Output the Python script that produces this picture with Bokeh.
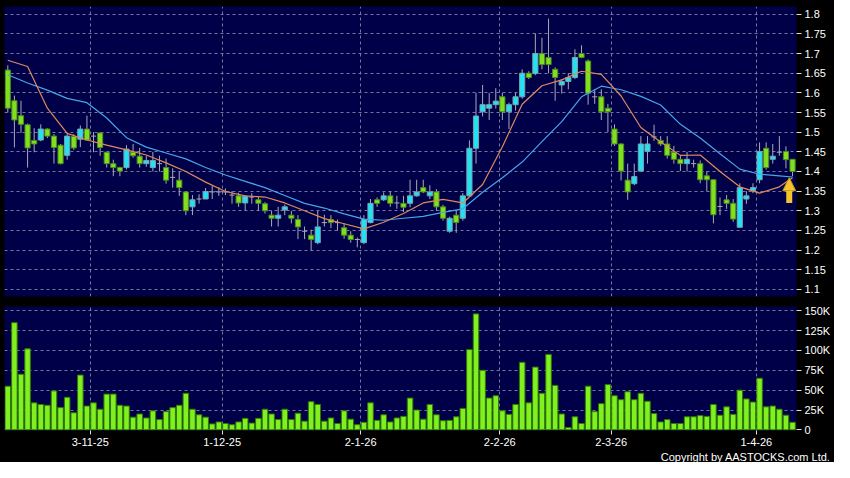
from bokeh.plotting import figure
from bokeh.layouts import column
from bokeh.models import (ColumnDataSource, FixedTicker, CustomJSTickFormatter, Title,
                          Range1d, Arrow, NormalHead)
from bokeh.embed import file_html
from bokeh.resources import INLINE

# ---------------- data ----------------
opens = [1.658, 1.580, 1.542, 1.519, 1.479, 1.480, 1.508, 1.490, 1.467, 1.441,
         1.489, 1.482, 1.508, 1.490, 1.498, 1.449, 1.420, 1.410, 1.410, 1.449,
         1.439, 1.420, 1.410, 1.420, 1.410, 1.385, 1.378, 1.348, 1.310, 1.330,
         1.330, 1.348, 1.348, 1.348, 1.340, 1.338, 1.320, 1.335, 1.328, 1.318,
         1.289, 1.281, 1.302, 1.289, 1.278, 1.248, 1.238, 1.219, 1.270, 1.278,
         1.270, 1.257, 1.238, 1.227, 1.219, 1.270, 1.328, 1.328, 1.338, 1.320,
         1.319, 1.319, 1.338, 1.359, 1.338, 1.348, 1.310, 1.248, 1.289, 1.281,
         1.338, 1.459, 1.552, 1.561, 1.570, 1.590, 1.552, 1.570, 1.590, 1.650,
         1.649, 1.700, 1.690, 1.660, 1.620, 1.629, 1.639, 1.700, 1.681, 1.590,
         1.590, 1.561, 1.508, 1.470, 1.378, 1.369, 1.401, 1.451, 1.488, 1.479,
         1.470, 1.449, 1.431, 1.420, 1.420, 1.420, 1.389, 1.379, 1.311, 1.328,
         1.319, 1.258, 1.330, 1.351, 1.379, 1.459, 1.431, 1.449, 1.451, 1.431]
highs = [1.670, 1.593, 1.580, 1.522, 1.510, 1.520, 1.510, 1.495, 1.470, 1.495,
         1.495, 1.517, 1.542, 1.500, 1.500, 1.450, 1.430, 1.412, 1.467, 1.470,
         1.460, 1.440, 1.450, 1.440, 1.433, 1.408, 1.400, 1.350, 1.340, 1.342,
         1.358, 1.363, 1.360, 1.357, 1.350, 1.346, 1.340, 1.345, 1.335, 1.322,
         1.300, 1.310, 1.316, 1.300, 1.289, 1.260, 1.252, 1.300, 1.290, 1.289,
         1.278, 1.268, 1.248, 1.232, 1.289, 1.330, 1.334, 1.347, 1.350, 1.338,
         1.338, 1.379, 1.379, 1.379, 1.365, 1.355, 1.315, 1.285, 1.300, 1.345,
         1.479, 1.600, 1.620, 1.600, 1.612, 1.600, 1.575, 1.600, 1.660, 1.655,
         1.751, 1.740, 1.789, 1.665, 1.635, 1.650, 1.711, 1.721, 1.685, 1.609,
         1.609, 1.572, 1.520, 1.472, 1.420, 1.420, 1.490, 1.490, 1.519, 1.490,
         1.490, 1.465, 1.441, 1.450, 1.430, 1.428, 1.400, 1.380, 1.334, 1.340,
         1.330, 1.370, 1.350, 1.370, 1.474, 1.474, 1.470, 1.490, 1.464, 1.431]
lows = [1.550, 1.461, 1.498, 1.410, 1.449, 1.477, 1.485, 1.420, 1.418, 1.430,
        1.455, 1.462, 1.478, 1.449, 1.440, 1.410, 1.388, 1.388, 1.405, 1.435,
        1.410, 1.412, 1.400, 1.400, 1.369, 1.359, 1.338, 1.289, 1.289, 1.318,
        1.330, 1.330, 1.338, 1.340, 1.318, 1.310, 1.301, 1.318, 1.300, 1.293,
        1.260, 1.260, 1.289, 1.268, 1.228, 1.228, 1.199, 1.215, 1.260, 1.256,
        1.250, 1.229, 1.219, 1.207, 1.215, 1.268, 1.310, 1.325, 1.310, 1.305,
        1.297, 1.309, 1.336, 1.345, 1.330, 1.300, 1.275, 1.244, 1.244, 1.275,
        1.335, 1.420, 1.540, 1.531, 1.560, 1.531, 1.508, 1.555, 1.585, 1.635,
        1.645, 1.660, 1.650, 1.580, 1.598, 1.609, 1.635, 1.688, 1.570, 1.572,
        1.531, 1.500, 1.465, 1.377, 1.328, 1.365, 1.400, 1.420, 1.478, 1.465,
        1.433, 1.420, 1.401, 1.400, 1.410, 1.370, 1.350, 1.268, 1.289, 1.305,
        1.272, 1.258, 1.318, 1.345, 1.370, 1.405, 1.420, 1.440, 1.408, 1.388]
closes = [1.561, 1.531, 1.520, 1.460, 1.470, 1.508, 1.490, 1.461, 1.420, 1.490,
          1.460, 1.508, 1.480, 1.490, 1.461, 1.420, 1.410, 1.401, 1.457, 1.440,
          1.420, 1.428, 1.428, 1.420, 1.378, 1.385, 1.359, 1.300, 1.328, 1.330,
          1.349, 1.348, 1.348, 1.348, 1.340, 1.320, 1.337, 1.335, 1.319, 1.300,
          1.281, 1.289, 1.310, 1.281, 1.259, 1.248, 1.227, 1.259, 1.270, 1.270,
          1.270, 1.238, 1.227, 1.227, 1.278, 1.319, 1.319, 1.338, 1.319, 1.320,
          1.309, 1.338, 1.348, 1.348, 1.348, 1.310, 1.281, 1.281, 1.270, 1.338,
          1.459, 1.541, 1.570, 1.570, 1.579, 1.552, 1.570, 1.590, 1.650, 1.639,
          1.700, 1.672, 1.672, 1.639, 1.629, 1.639, 1.690, 1.690, 1.599, 1.590,
          1.552, 1.552, 1.470, 1.401, 1.348, 1.387, 1.470, 1.470, 1.488, 1.470,
          1.441, 1.431, 1.420, 1.431, 1.420, 1.379, 1.379, 1.290, 1.311, 1.319,
          1.279, 1.359, 1.338, 1.359, 1.451, 1.410, 1.439, 1.449, 1.430, 1.400]
volume_k = [55, 135, 70, 102, 34, 32, 31, 49, 28, 41,
            21.5, 69, 30, 34, 26, 45, 45, 31, 30, 16,
            20, 15, 24, 13, 23, 28, 31, 46, 26, 19,
            16, 7.5, 10, 8, 6.5, 10, 14.5, 8.5, 14.5, 26,
            20, 13, 26, 13, 21, 11, 35.5, 32, 11, 15,
            8, 24, 13.5, 6.5, 9.5, 34, 12, 19, 10, 15,
            17, 40, 25, 13.5, 32, 19, 11.5, 12, 16.5, 27,
            101, 146, 75, 40, 43, 24, 19.5, 32, 85, 34,
            79, 46, 95, 56, 20, 3, 16.5, 8, 55, 23,
            33, 57, 43, 38, 48, 38, 46, 36, 20.5, 10,
            13, 8, 8, 16.5, 16.5, 18, 17, 32, 18.5, 29,
            19.5, 50, 39, 35, 65, 29, 30, 26, 18.5, 9.5]
ma_idx = [0, 3, 6, 9, 12, 15, 18, 21, 24, 27, 30, 33, 36, 39, 42, 45, 48, 51, 54, 57,
          60, 63, 66, 69, 72, 75, 78, 81, 84, 87, 90, 93, 96, 99, 102, 105, 108, 111,
          114, 117, 119]
ma10 = [1.683, 1.667, 1.561, 1.497, 1.480, 1.467, 1.455, 1.442, 1.422, 1.400,
        1.373, 1.349, 1.338, 1.335, 1.320, 1.300, 1.280, 1.267, 1.254, 1.271,
        1.293, 1.320, 1.329, 1.320, 1.367, 1.463, 1.571, 1.618, 1.633, 1.655,
        1.647, 1.592, 1.512, 1.475, 1.441, 1.442, 1.400, 1.361, 1.345, 1.361, 1.384]
ma20 = [1.646, 1.625, 1.607, 1.586, 1.575, 1.536, 1.486, 1.462, 1.447, 1.432,
        1.410, 1.391, 1.375, 1.359, 1.339, 1.319, 1.307, 1.292, 1.279, 1.276,
        1.281, 1.286, 1.296, 1.305, 1.347, 1.384, 1.424, 1.476, 1.527, 1.590,
        1.617, 1.608, 1.591, 1.569, 1.520, 1.485, 1.445, 1.406, 1.393, 1.389, 1.386]
price_ticks = [1.1, 1.15, 1.2, 1.25, 1.3, 1.35, 1.4, 1.45, 1.5, 1.55, 1.6, 1.65, 1.7, 1.75, 1.8]
volume_ticks = [0, 25, 50, 75, 100, 125, 150]
tick_pos = [12.5, 32.5, 53.5, 74.6, 91.5, 113.5]
tick_labels = ["3-11-25", "1-12-25", "2-1-26", "2-2-26", "2-3-26", "1-4-26"]

# ---------------- styling ----------------
BG = "#000048"
GRID = "#7676a0"
FONT = "Liberation Sans"
UP_FILL, UP_LINE = "#22e2f2", "#7f9fb0"
DN_FILL, DN_LINE = "#80e01e", "#4c8c1c"
WICK = "#a9a9b4"

n = len(closes)
idx = list(range(n))

# candle sources
body = dict(x=[], top=[], bottom=[], fill=[], line=[])
doji = dict(x0=[], x1=[], y=[])
half = 0.39
for i, o, c in zip(idx, opens, closes):
    if c == o:
        doji["x0"].append(i - half)
        doji["x1"].append(i + half)
        doji["y"].append(o)
    else:
        body["x"].append(i)
        body["top"].append(max(o, c))
        body["bottom"].append(min(o, c))
        body["fill"].append(UP_FILL if c > o else DN_FILL)
        body["line"].append(UP_LINE if c > o else DN_LINE)

x_range = Range1d(-0.5, 119.6)


def style(p):
    p.background_fill_color = BG
    p.border_fill_color = "black"
    p.outline_line_color = None
    for g in (p.xgrid[0], p.ygrid[0]):
        g.grid_line_color = GRID
        g.grid_line_dash = "3 3"
        g.grid_line_width = 1
    ax = p.yaxis[0]
    ax.axis_line_color = None
    ax.major_tick_in = 0
    ax.major_tick_out = 5
    ax.minor_tick_line_color = None
    ax.major_tick_line_color = "#e0e0e0"
    ax.major_label_text_color = "white"
    ax.major_label_text_font = FONT
    ax.major_label_text_font_size = "11px"
    ax.major_label_standoff = 3
    p.xgrid[0].ticker = FixedTicker(ticks=tick_pos)


# ---------------- price panel ----------------
p1 = figure(width=834, height=300, x_range=x_range, y_range=Range1d(1.082, 1.8197),
            y_axis_location="right", output_backend="svg", toolbar_location=None,
            min_border_left=4, min_border_right=38, min_border_top=6, min_border_bottom=4)
style(p1)
p1.xaxis.visible = False
p1.yaxis.ticker = FixedTicker(ticks=price_ticks)
p1.ygrid.ticker = FixedTicker(ticks=price_ticks)
p1.yaxis.formatter = CustomJSTickFormatter(code="return (Math.round(tick*100)/100).toString();")

p1.segment(x0=idx, y0=lows, x1=idx, y1=highs, line_color=WICK, line_width=1)
p1.vbar(x="x", top="top", bottom="bottom", width=0.78, fill_color="fill", line_color="line",
        line_width=1, source=ColumnDataSource(body))
p1.segment(x0="x0", y0="y", x1="x1", y1="y", line_color=WICK, line_width=1,
           source=ColumnDataSource(doji))
p1.line(ma_idx, ma20, line_color="#46a6ea", line_width=1.2)
p1.line(ma_idx, ma10, line_color="#e0895c", line_width=1.2)

# marker arrow pointing at the latest moving-average level
tip = ma10[-1]
p1.add_layout(Arrow(end=NormalHead(size=13, fill_color="#f5c32c", line_color="#c99a12", line_width=1),
                    x_start=n - 1.5, y_start=tip - 0.064, x_end=n - 1.5, y_end=tip,
                    line_color="#f5c32c", line_width=6))

# ---------------- volume panel ----------------
p2 = figure(width=834, height=162, x_range=x_range, y_range=Range1d(-0.8, 155.3),
            y_axis_location="right", output_backend="svg", toolbar_location=None,
            min_border_left=4, min_border_right=38, min_border_top=6, min_border_bottom=0)
style(p2)
p2.yaxis.ticker = FixedTicker(ticks=volume_ticks)
p2.ygrid.ticker = FixedTicker(ticks=volume_ticks)
p2.yaxis.formatter = CustomJSTickFormatter(code="return tick == 0 ? '0' : tick + 'K';")
xa = p2.xaxis[0]
xa.ticker = FixedTicker(ticks=tick_pos)
xa.major_label_overrides = {pos: lab for pos, lab in zip(tick_pos, tick_labels)}
xa.axis_line_color = None
xa.major_tick_in = 0
xa.major_tick_out = 4
xa.minor_tick_line_color = None
xa.major_tick_line_color = "#e0e0e0"
xa.major_label_text_color = "white"
xa.major_label_text_font = FONT
xa.major_label_text_font_size = "11px"
xa.major_label_standoff = 3

p2.vbar(x=idx, top=volume_k, bottom=0, width=0.84, fill_color="#80f020",
        line_color="#2f7a00", line_width=1)

p2.add_layout(Title(text="Copyright by AASTOCKS.com Ltd.", align="right", text_color="white",
                    text_font=FONT, text_font_size="11px", text_font_style="normal",
                    standoff=0, offset=-34), "below")

layout = column(p1, p2, spacing=0, styles={"background-color": "black"})
open("out.html", "w").write(file_html(layout, INLINE))
